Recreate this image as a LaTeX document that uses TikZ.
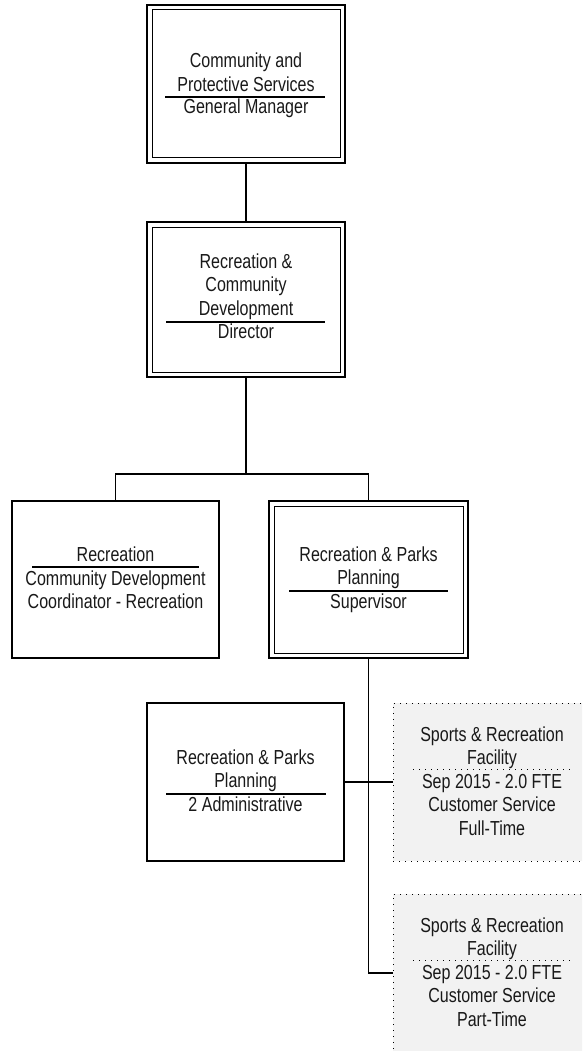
\documentclass[tikz,border=0pt]{standalone}
\usepackage{fontspec}
\setmainfont{Liberation Sans}[FakeStretch=0.79]
\begin{document}
\begin{tikzpicture}[x=1pt,y=-1pt,
  conn/.style={line width=1.5pt},
  box/.style={draw, line width=1.6pt, inner sep=0pt, outer sep=0pt},
  dbox/.style={draw, line width=2pt, inner sep=0pt, outer sep=0pt},
  innerline/.style={line width=1pt},
  vbox/.style={fill=gray!10, draw, line width=1pt, dash pattern=on 1pt off 5pt, inner sep=0pt, outer sep=0pt},
  txt/.style={font=\fontsize{20.3}{23.5}\selectfont, anchor=base, inner sep=0pt, text=black!90},
  sepline/.style={line width=1.5pt},
  dotsep/.style={line width=1pt, dash pattern=on 1pt off 5pt}]
\useasboundingbox (0,0) rectangle (582,1051);
\clip (0,0) rectangle (582,1051);
% boxes
\node[dbox, minimum width=198pt, minimum height=158pt] (n1) at (246,84) {};
\draw[innerline] ([shift={(5,5)}]n1.north west) rectangle ([shift={(-5,-5)}]n1.south east);
\node[dbox, minimum width=198pt, minimum height=155pt] (n2) at (246,299.5) {};
\draw[innerline] ([shift={(5,5)}]n2.north west) rectangle ([shift={(-5,-5)}]n2.south east);
\node[box, minimum width=207pt, minimum height=157pt] (n3) at (115.5,579.5) {};
\node[dbox, minimum width=199pt, minimum height=157pt] (n4) at (368.5,579.5) {};
\draw[innerline] ([shift={(5,5)}]n4.north west) rectangle ([shift={(-5,-5)}]n4.south east);
\node[box, minimum width=197pt, minimum height=158pt] (n5) at (245.5,782) {};
\node[vbox, minimum width=198pt, minimum height=158pt] (n6) at (492,782) {};
\node[vbox, minimum width=198pt, minimum height=158pt] (n7) at (492,973) {};
% connectors
\coordinate (j1) at (246,474);
\draw[conn] (n1.south) -- (n2.north);
\draw[conn] (n2.south) -- (j1);
\draw[conn] (j1) -| (n3.north);
\draw[conn] (j1) -| (n4.north);
\draw[conn] (n4.south) |- (n7.west);
\draw[conn] (n5.east) -- (n6.west);
% texts n1
\node[txt] (t1a) at (246,68) {Community and};
\node[txt] (t1b) at (246,91.5) {Protective Services};
\draw[sepline] (165,97) -- (325,97);
\node[txt] (t1c) at (246,114) {General Manager};
% n2
\node[txt] (t2a) at (246,268) {Recreation \&};
\node[txt] (t2b) at (246,291.5) {Community};
\node[txt] (t2c) at (246,315) {Development};
\draw[sepline] (166,322) -- (325,322);
\node[txt] (t2d) at (246,338.5) {Director};
% n3
\node[txt] (t3a) at (115.5,561) {Recreation};
\draw[sepline] (32,567) -- (199,567);
\node[txt] (t3b) at (115.5,585) {Community Development};
\node[txt] (t3c) at (115.5,608.5) {Coordinator - Recreation};
% n4
\node[txt] (t4a) at (368.5,561) {Recreation \& Parks};
\node[txt] (t4b) at (368.5,584.5) {Planning};
\draw[sepline] (289,591) -- (448,591);
\node[txt] (t4c) at (368.5,608) {Supervisor};
% n5
\node[txt] (t5a) at (245.5,764) {Recreation \& Parks};
\node[txt] (t5b) at (245.5,787.5) {Planning};
\draw[sepline] (166,794) -- (326,794);
\node[txt] (t5c) at (245.5,811.5) {2 Administrative};
% n6
\node[txt] (t6a) at (492,741) {Sports \& Recreation};
\node[txt] (t6b) at (492,764) {Facility};
\draw[dotsep] (413,769) -- (572,769);
\node[txt] (t6c) at (492,788) {Sep 2015 - 2.0 FTE};
\node[txt] (t6d) at (492,811.5) {Customer Service};
\node[txt] (t6e) at (492,835) {Full-Time};
% n7
\node[txt] (t7a) at (492,932) {Sports \& Recreation};
\node[txt] (t7b) at (492,955) {Facility};
\draw[dotsep] (413,960) -- (572,960);
\node[txt] (t7c) at (492,979) {Sep 2015 - 2.0 FTE};
\node[txt] (t7d) at (492,1002.5) {Customer Service};
\node[txt] (t7e) at (492,1026) {Part-Time};
\end{tikzpicture}
\end{document}
